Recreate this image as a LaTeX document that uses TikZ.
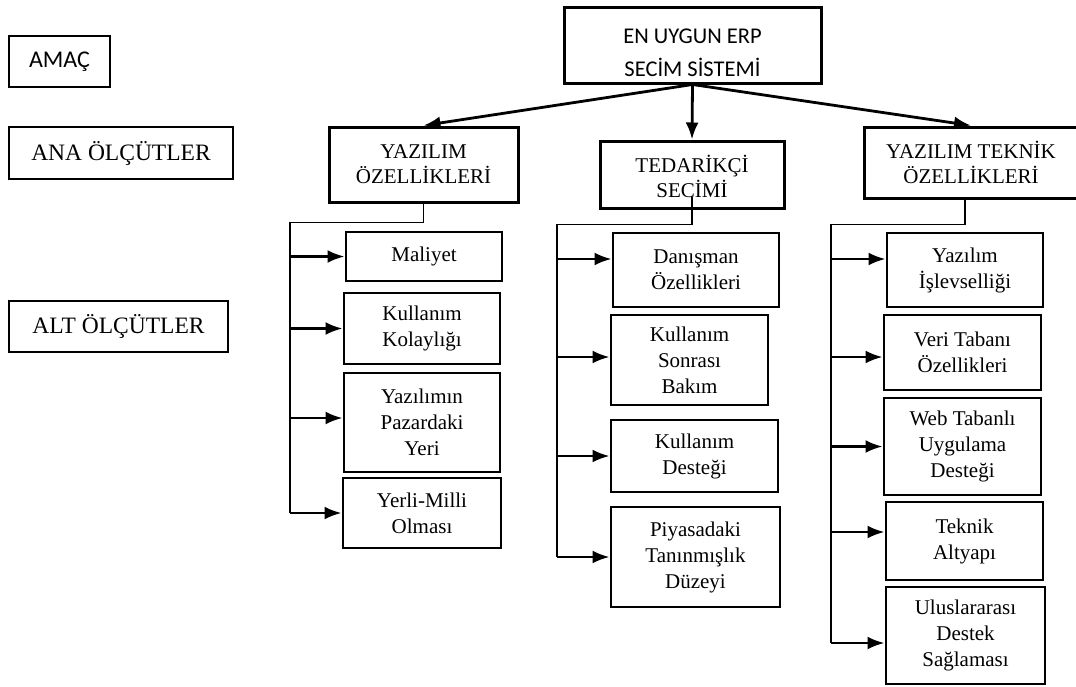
\documentclass[tikz,border=0pt]{standalone}
\usepackage{fontspec}
\setmainfont{Liberation Serif}
\newfontfamily\calibri{Carlito}
\usetikzlibrary{arrows.meta}
\tikzset{>={Latex[length=17pt,width=13pt]}}
\tikzset{
  etiket/.style={draw, line width=1.3pt, align=center, inner sep=0pt, font=\fontsize{23.5}{28}\selectfont},
  anakutu/.style={draw, line width=3pt, align=center, inner sep=0pt, font=\fontsize{21}{25}\selectfont},
  altkutu/.style={draw, line width=2.8pt, align=center, inner sep=0pt, font=\fontsize{21}{26}\selectfont},
  ince/.style={line width=1.2pt},
  ok/.style={->, line width=2.8pt}
}

\begin{document}
\begin{tikzpicture}[x=1pt, y=-1pt]
      \useasboundingbox (0,0) rectangle (1076,686);
      % sol etiketler
      \node[etiket, font=\calibri\fontsize{24}{28}\selectfont, minimum width=101pt, minimum height=51pt] (amac) at (59.5,61.5) {AMAÇ};
      \node[etiket, minimum width=224pt, minimum height=52pt] (ana) at (121,153) {ANA ÖLÇÜTLER};
      \node[etiket, minimum width=219pt, minimum height=51pt] (altolc) at (118.5,326.5) {ALT ÖLÇÜTLER};
      % amac ve ana olcutler
      \node[anakutu, font=\calibri\fontsize{22.5}{33}\selectfont, minimum width=257pt, minimum height=76pt] (erp) at (692.5,45) {\rule{0pt}{31pt}EN UYGUN ERP\\SECİM SİSTEMİ};
      \node[anakutu, minimum width=189pt, minimum height=75pt] (yaz) at (423.5,164.5) {YAZILIM\\ÖZELLİKLERİ};
      \node[anakutu, minimum width=184pt, minimum height=67pt] (ted) at (692,174.5) {\rule{0pt}{22pt}TEDARİKÇİ\\SECİMİ};
      \node[anakutu, minimum width=214pt, minimum height=71pt] (tek) at (971,162.5) {YAZILIM TEKNİK\\ÖZELLİKLERİ};
      \draw[ok] (erp.south) -- (yaz.north);
      \draw[ok] (erp.south) -- (ted.north);
      \draw[ok] (erp.south) -- (tek.north);
      % alt olcutler 1
      \node[altkutu, minimum width=156pt, minimum height=49pt] (mal) at (424,256.5) {Maliyet};
      \node[altkutu, minimum width=156pt, minimum height=71pt] (kol) at (422,328.5) {Kullanım\\Kolaylığı};
      \node[altkutu, minimum width=156pt, minimum height=99pt] (paz) at (422,422.5) {Yazılımın\\Pazardaki\\Yeri};
      \node[altkutu, minimum width=158pt, minimum height=70pt] (yer) at (422,513) {Yerli-Milli\\Olması};
      \coordinate (s1) at (290,513);
      \draw[ince] (yaz.south) -- ++(0,19) -| (s1);
      \draw[ok] (mal.west -| s1) -- (mal.west);
      \draw[ok] (kol.west -| s1) -- (kol.west);
      \draw[ok] ([yshift=4.5pt]paz.west -| s1) -- ([yshift=4.5pt]paz.west);
      \draw[ok] (yer.west -| s1) -- (yer.west);
      % alt olcutler 2
      \node[altkutu, minimum width=166pt, minimum height=74pt] (dan) at (696,270) {Danışman\\Özellikleri};
      \node[altkutu, minimum width=157pt, minimum height=90pt] (bak) at (689.5,360) {Kullanım\\Sonrası\\Bakım};
      \node[altkutu, minimum width=167pt, minimum height=72pt] (kde) at (694.5,456) {Kullanım\\Desteği};
      \node[altkutu, minimum width=169pt, minimum height=100pt] (piy) at (695.5,557) {Piyasadaki\\Tanınmışlık\\Düzeyi};
      \coordinate (s2) at (557,557);
      \draw[ince] ([yshift=13pt]ted.south) -- ++(0,28) -| (s2);
      \draw[ok] ([yshift=11pt]dan.west -| s2) -- ([yshift=11pt]dan.west);
      \draw[ok] ([yshift=3pt]bak.west -| s2) -- ([yshift=3pt]bak.west);
      \draw[ok] (kde.west -| s2) -- (kde.west);
      \draw[ok] (piy.west -| s2) -- (piy.west);
      % alt olcutler 3
      \node[altkutu, minimum width=156pt, minimum height=74pt] (isl) at (965,270) {Yazılım\\İşlevselliği};
      \node[altkutu, minimum width=157pt, minimum height=75pt] (ver) at (962.5,352.5) {Veri Tabanı\\Özellikleri};
      \node[altkutu, minimum width=157pt, minimum height=97pt] (web) at (962.5,446.5) {Web Tabanlı\\Uygulama\\Desteği};
      \node[altkutu, minimum width=157pt, minimum height=78pt] (alty) at (964.5,541) {Teknik\\Altyapı};
      \node[altkutu, minimum width=159pt, minimum height=97pt] (ulu) at (965.5,635.5) {Uluslararası\\Destek\\Sağlaması};
      \coordinate (s3) at (831,643);
      \draw[ince] ([xshift=-6pt]tek.south) -- ++(0,25) -| (s3);
      \draw[ok] ([yshift=11pt]isl.west -| s3) -- ([yshift=11pt]isl.west);
      \draw[ok] ([yshift=-4.5pt]ver.west -| s3) -- ([yshift=-4.5pt]ver.west);
      \draw[ok] (web.west -| s3) -- (web.west);
      \draw[ok] ([yshift=9pt]alty.west -| s3) -- ([yshift=9pt]alty.west);
      \draw[ok] ([yshift=-7.5pt]ulu.west -| s3) -- ([yshift=-7.5pt]ulu.west);
    \end{tikzpicture}
\end{document}
